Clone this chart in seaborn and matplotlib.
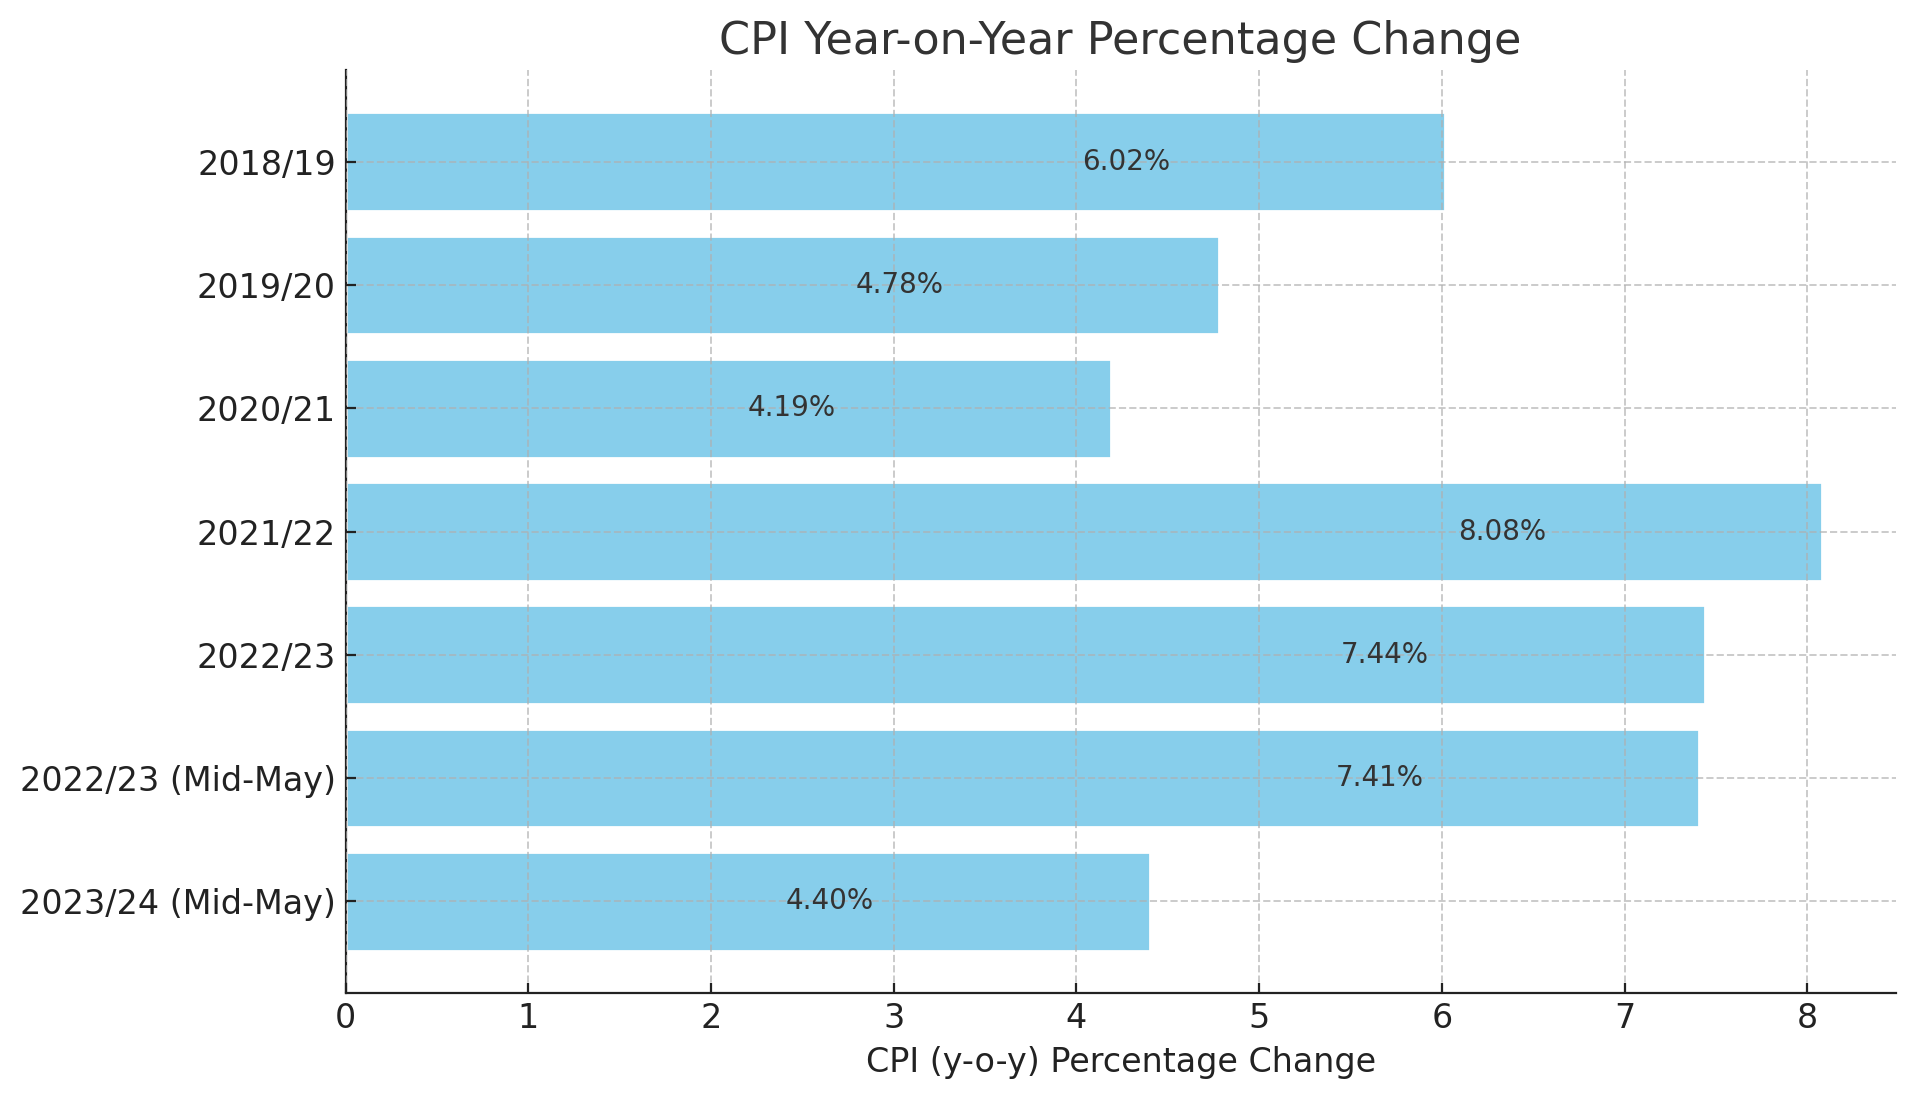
import matplotlib
matplotlib.use('Agg')

import matplotlib.pyplot as plt
import seaborn as sb
import pandas as pd

years = ["2018/19", "2019/20", "2020/21", "2021/22", "2022/23",
         "2022/23 (Mid-May)", "2023/24 (Mid-May)"]
cpi = [6.02, 4.78, 4.19, 8.08, 7.44, 7.41, 4.40]

df = pd.DataFrame({'Year': years, 'CPI': cpi})

sb.set_style('ticks')
plt.rcParams['font.family'] = ['DejaVu Sans']

fig = plt.figure(figsize=(9.575, 5.505), dpi=200)
ax = fig.add_axes([0.1805, 0.0985, 0.8094, 0.8375])

sb.barplot(data=df, x='CPI', y='Year', orient='h', color='skyblue',
           saturation=1, width=0.8, ax=ax)

ax.grid(True, linestyle='--', color='#b0b0b0', alpha=0.65, linewidth=0.7)
ax.set_axisbelow(False)
sb.despine(ax=ax)
for s in ['left', 'bottom']:
    ax.spines[s].set_color('#222222')
    ax.spines[s].set_linewidth(0.8)

for i, v in enumerate(cpi):
    ax.text(v - 1.75, i, f"{v:.2f}%", va='center', ha='center',
            fontsize=10, color='#333333')

ax.set_xlim(0, 8.484)
ax.set_ylim(len(years) - 0.26, -0.74)
ax.set_title('CPI Year-on-Year Percentage Change', fontsize=16, color='#333333')
ax.set_xlabel('CPI (y-o-y) Percentage Change', fontsize=12, color='#222222')
ax.set_ylabel('')
ax.tick_params(labelsize=12, colors='#222222', direction='in',
               length=3.5, width=0.8, pad=3.5)

fig.savefig('out.png', dpi=200)
